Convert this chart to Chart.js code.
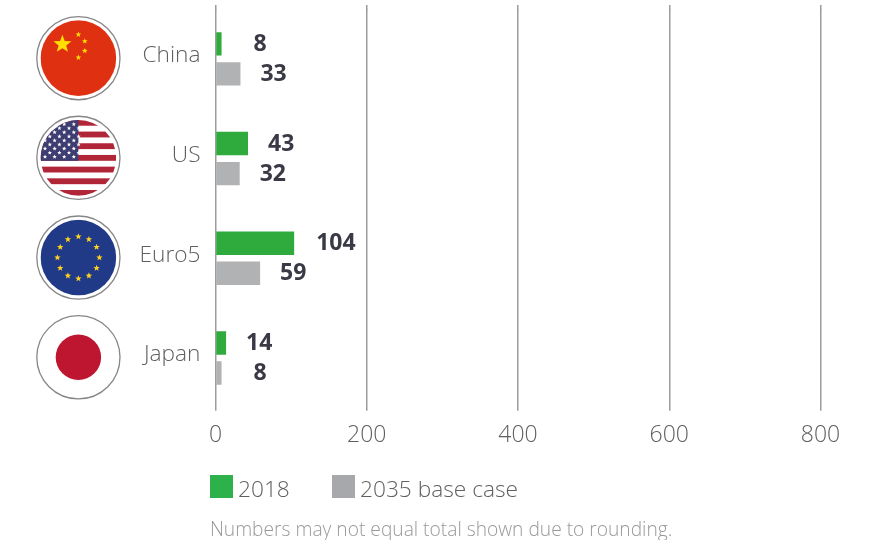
<!DOCTYPE html>
<html><head><meta charset="utf-8">
<style>html,body{margin:0;padding:0;background:#fff}canvas{display:block}</style>
<script src="https://cdn.jsdelivr.net/npm/chart.js@4"></script>
</head><body><canvas id="c" width="877" height="540"></canvas>
<script>
const categories = ['China','US','Euro5','Japan'];
const values2018 = [8,43,104,14];
const values2035 = [33,32,59,8];
const seriesNames = ['2018','2035 base case'];
const legendColors = ['#2DB14A','#A6A8AB'];
const xTicks = [0,200,400,600,800];
const footnote = 'Numbers may not equal total shown due to rounding.';
const FONT = '"Open Sans"';

function star(ctx,x,y,r,color){
  ctx.fillStyle=color;ctx.beginPath();
  for(let i=0;i<10;i++){const a=-Math.PI/2+i*Math.PI/5,q=i%2?r*0.42:r;
    ctx[i?'lineTo':'moveTo'](x+q*Math.cos(a),y+q*Math.sin(a));}
  ctx.closePath();ctx.fill();
}
const flags = {
  China(ctx,x,y,R){
    ctx.fillStyle='#E03012';ctx.fillRect(x-R,y-R,2*R,2*R);
    star(ctx,x-16,y-14,9.5,'#FFDE00');
    [[0,-23.7],[6.4,-17],[6.4,-7.3],[0,-0.7]].forEach(p=>star(ctx,x+p[0],y+p[1],3,'#FFDE00'));
  },
  US(ctx,x,y,R){
    ctx.fillStyle='#fff';ctx.fillRect(x-R,y-R,2*R,2*R);
    const h=2*R/13;ctx.fillStyle='#B02537';
    for(let i=0;i<13;i+=2)ctx.fillRect(x-R,y-R+i*h,2*R,h);
    ctx.fillStyle='#3E3D72';ctx.fillRect(x-R,y-R,R,7*h);
    for(let r=0;r<9;r++){
      for(let i=0;i<4;i++)star(ctx,x+(r%2?-28.6:-33.4)+i*9.6,y-33.7+r*4.08,2.3,'#fff');
    }
  },
  Euro5(ctx,x,y,R){
    ctx.fillStyle='#203A88';ctx.fillRect(x-R,y-R,2*R,2*R);
    for(let i=0;i<12;i++){const a=i*Math.PI/6;star(ctx,x+21*Math.sin(a),y-21*Math.cos(a),3.4,'#FFD21F');}
  },
  Japan(ctx,x,y,R){
    ctx.fillStyle='#fff';ctx.fillRect(x-R,y-R,2*R,2*R);
    ctx.fillStyle='#BE1530';ctx.beginPath();ctx.arc(x,y,22.7,0,2*Math.PI);ctx.fill();
  }
};
const customDraw = {
  id:'customDraw',
  afterLayout(chart){
    const t=chart.titleBlock;
    t.left=210;t.right=800;t.top=519;
  },
  beforeDatasetsDraw(chart){
    const {ctx,chartArea:a,scales:{x}}=chart;
    ctx.save();
    x.ticks.forEach(t=>{
      const px=Math.round(x.getPixelForValue(t.value)-0.75)+0.75;
      ctx.strokeStyle='#9C9C9C';
      ctx.lineWidth=1.5;
      ctx.beginPath();ctx.moveTo(px,a.top-4);ctx.lineTo(px,a.top+1);ctx.stroke();
    });
    ctx.restore();
  },
  afterDraw(chart){
    const {ctx,scales:{y}}=chart;
    ctx.save();
    categories.forEach((c,i)=>{
      const cy=y.getPixelForValue(i)-0.7,cx=78.4;
      ctx.beginPath();ctx.arc(cx,cy,41.6,0,2*Math.PI);
      ctx.fillStyle='#fff';ctx.fill();
      ctx.strokeStyle='#868686';ctx.lineWidth=1.3;ctx.stroke();
      ctx.save();
      ctx.beginPath();ctx.arc(cx,cy,c==='Japan'?40:37.8,0,2*Math.PI);ctx.clip();
      flags[c](ctx,cx,cy,38);
      ctx.restore();
    });
    ctx.font='bold 23px '+FONT;ctx.fillStyle='#3A3A46';
    ctx.textAlign='left';ctx.textBaseline='middle';
    chart.data.datasets.forEach((ds,di)=>{
      chart.getDatasetMeta(di).data.forEach((bar,i)=>{
        const v=ds.data[i];
        ctx.fillText(String(v),bar.x+(v<10?32:v<100?20:22),bar.y+0.5);
      });
    });
    ctx.font='300 22.7px '+FONT;
    [[210,238],[332,360]].forEach((p,i)=>{
      ctx.fillStyle=legendColors[i];ctx.fillRect(p[0],475,23,23);
      ctx.fillStyle='#606060';ctx.fillText(seriesNames[i],p[1],491);
    });
    ctx.restore();
  }
};
new Chart(document.getElementById('c'),{
  type:'bar',
  data:{labels:categories,datasets:[
    {label:seriesNames[0],data:values2018,backgroundColor:'#2FAA3C'},
    {label:seriesNames[1],data:values2035,backgroundColor:'#B1B2B4'}
  ]},
  plugins:[customDraw],
  options:{
    indexAxis:'y',responsive:false,animation:false,
    layout:{padding:{top:9,right:56.5,left:0,bottom:56.5}},
    datasets:{bar:{categoryPercentage:0.6024,barPercentage:0.78}},
    scales:{
      x:{min:0,max:800,afterBuildTicks(s){s.ticks=xTicks.map(v=>({value:v}));},
        afterFit(s){s.paddingLeft=0;s.paddingRight=0;},
        grid:{color:'#9C9C9C',lineWidth:1.5,tickLength:3},
        border:{display:false},
        ticks:{font:{family:FONT,size:23,weight:300},color:'#606060',padding:11,maxRotation:0}},
      y:{afterFit(s){s.width=215.5;s.paddingTop=0;s.paddingBottom=0;},
        grid:{display:false,drawTicks:false},border:{display:false},
        ticks:{font:{family:FONT,size:22.7,weight:300,lineHeight:6/22.7},color:'#606060',padding:15,
          callback(v,i){return [categories[i],''];}}}
    },
    plugins:{
      legend:{display:false},
      title:{display:true,text:footnote,position:'bottom',align:'start',color:'#999',padding:0,font:{family:FONT,size:19.2,weight:300}},
      tooltip:{enabled:false}
    }
  }
});
</script></body></html>
